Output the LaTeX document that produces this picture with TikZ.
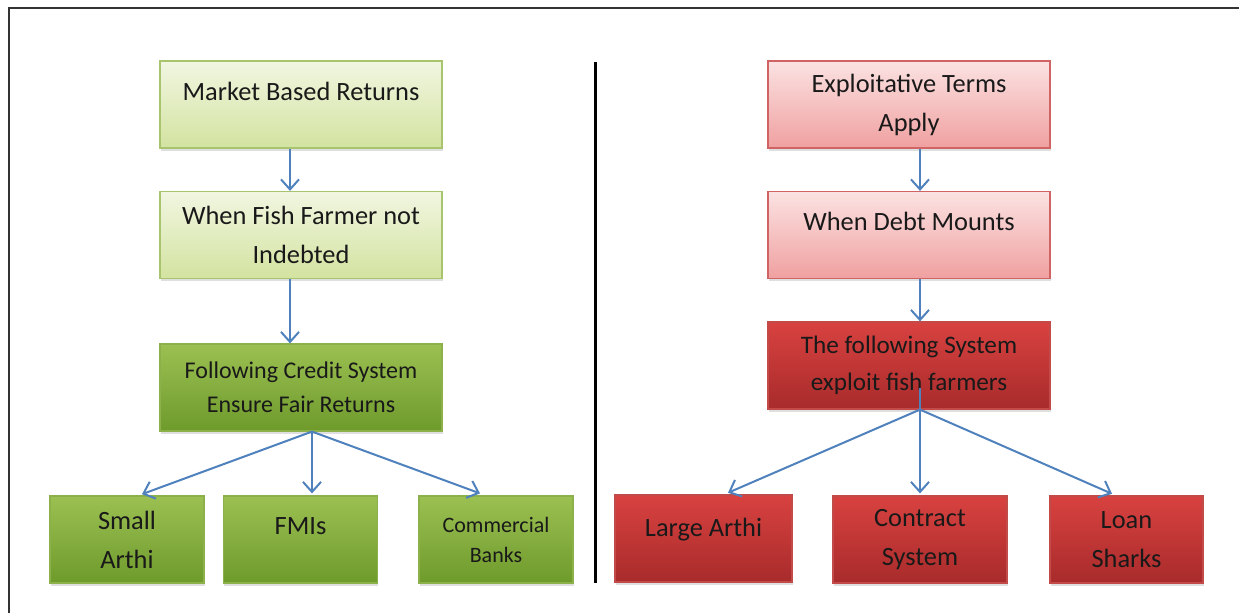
\documentclass[tikz,border=0pt]{standalone}
\usepackage{fontspec}
\setmainfont{Carlito}
\usetikzlibrary{arrows.meta,shadows}
\definecolor{lgreentop}{HTML}{F1F6E1}
\definecolor{lgreenbot}{HTML}{D3E3A0}
\definecolor{lgreenline}{HTML}{A8C46E}
\definecolor{dgreentop}{HTML}{9CC052}
\definecolor{dgreenbot}{HTML}{6E9A2C}
\definecolor{dgreenline}{HTML}{8CB04A}
\definecolor{lredtop}{HTML}{FBE2E2}
\definecolor{lredbot}{HTML}{F0A0A0}
\definecolor{lredline}{HTML}{D06464}
\definecolor{dredtop}{HTML}{D84240}
\definecolor{dredbot}{HTML}{A82B2B}
\definecolor{dredline}{HTML}{C24A48}
\definecolor{arrblue}{HTML}{4F81BD}

\begin{document}
\begin{tikzpicture}[x=0.5pt,y=-0.5pt,
    box/.style={rectangle, align=center, inner sep=0pt, text=black!90,
      font=\fontsize{13.2}{19.5}\selectfont, line width=0.6pt,
      drop shadow={shadow xshift=0.4pt, shadow yshift=-1.4pt, opacity=0.25}},
    wide/.style={box, minimum width=141pt, minimum height=43.5pt},
    small/.style={box, minimum width=77pt, minimum height=43.5pt},
    lgreen/.style={draw=lgreenline, top color=lgreentop, bottom color=lgreenbot},
    dgreen/.style={draw=dgreenline, top color=dgreentop, bottom color=dgreenbot},
    lred/.style={draw=lredline, top color=lredtop, bottom color=lredbot},
    dred/.style={draw=dredline, top color=dredtop, bottom color=dredbot},
    topline/.style={text depth=13.5pt},
    arr/.style={draw=arrblue, line width=1pt, -{Straight Barb[length=5pt,width=9pt]}}]
  \useasboundingbox (0,0) rectangle (1239,613);
  % Frame and divider
  \draw[line width=1pt, black!80] (9,613) -- (9,8) -- (1239,8);
  \draw[line width=1.5pt] (595,62) -- (595,583);

  % Left side: fair returns
  \node[wide, lgreen, topline] (mkt) at (301,104.5) {Market Based Returns};
  \node[wide, lgreen] (notdebt) at (301,235) {When Fish Farmer not\\Indebted};
  \node[wide, dgreen, font=\fontsize{12}{17}\selectfont] (credit) at (301,387.5) {Following Credit System\\Ensure Fair Returns};
  \node[small, dgreen] (sarthi) at (127,539.5) {Small\\Arthi};
  \node[small, dgreen, topline] (fmi) at (300.5,539.5) {FMIs};
  \node[small, dgreen, font=\fontsize{11}{15}\selectfont] (banks) at (496,539.5) {Commercial\\Banks};

  % Right side: exploitation
  \node[wide, lred] (terms) at (909,104.5) {Exploitative Terms\\Apply};
  \node[wide, lred, topline] (debt) at (909,235) {When Debt Mounts};
  \node[wide, dred, font=\fontsize{12.6}{18.5}\selectfont] (exploit) at (909,365.5) {The following System\\exploit fish farmers};
  \node[small, dred, topline, text depth=11pt, minimum width=88.5pt] (larthi) at (703.5,538.5) {Large Arthi};
  \node[small, dred, minimum width=87pt] (contract) at (920,539.5) {Contract\\System};
  \node[small, dred, minimum width=76.5pt] (sharks) at (1126.5,539.5) {Loan\\Sharks};

  % Arrow columns
  \coordinate (lcol) at (290,0);
  \coordinate (lfan) at (312,0);
  \coordinate (rcol) at (920,0);
  \coordinate (ltip) at (142,0);
  \coordinate (rtip) at (480,0);
  \coordinate (lltip) at (728,0);
  \coordinate (rrtip) at (1112,0);
  \coordinate (rstart) at (920,388);

  % Arrows
  \draw[arr] (mkt.south -| lcol) -- (notdebt.north -| lcol);
  \draw[arr] (notdebt.south -| lcol) -- (credit.north -| lcol);
  \draw[arr] (credit.south -| lfan) -- ([yshift=0.6pt]sarthi.north -| ltip);
  \draw[arr] (credit.south -| lfan) -- ([yshift=1pt]fmi.north -| lfan);
  \draw[arr] (credit.south -| lfan) -- ([yshift=1pt]banks.north -| rtip);

  \draw[arr] (terms.south -| rcol) -- (debt.north -| rcol);
  \draw[arr] (debt.south -| rcol) -- (exploit.north -| rcol);
  \draw[arr] (exploit.south -| rcol) -- ([yshift=0.8pt]larthi.north -| lltip);
  \draw[arr] (rstart) -- ([yshift=1pt]contract.north -| rcol);
  \draw[arr] (exploit.south -| rcol) -- ([yshift=0.8pt]sharks.north -| rrtip);
\end{tikzpicture}
\end{document}
